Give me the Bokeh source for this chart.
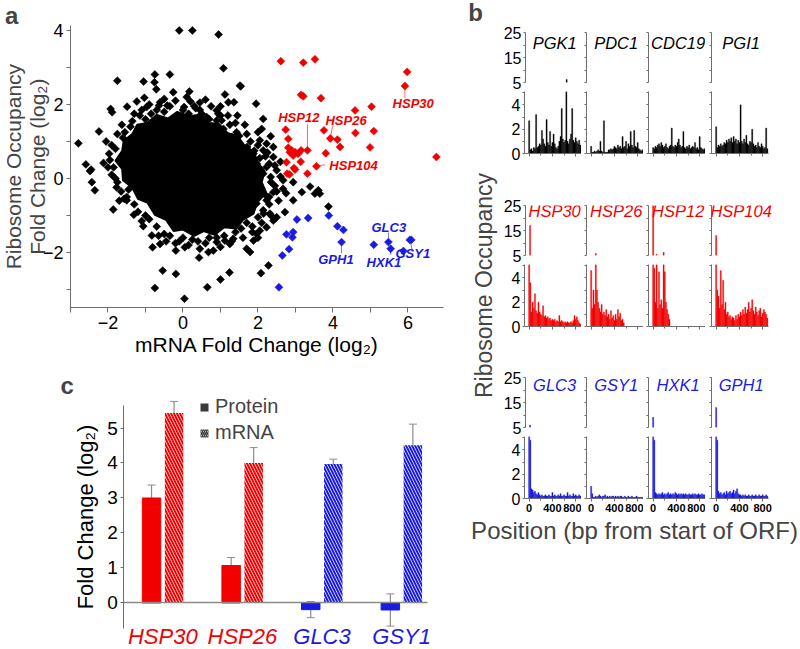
import numpy as np
from bokeh.plotting import figure
from bokeh.layouts import row, column
from bokeh.models import (Range1d, FixedTicker, Label, Whisker, ColumnDataSource,
                          Legend, LegendItem, CDSView, BooleanFilter)
from bokeh.embed import file_html
from bokeh.resources import INLINE
from bokeh.core.properties import value

FONT = "Liberation Sans"
RED = "#f20000"
BLUE = "#1a1ae0"
AX = "#6e6e6e"
COLOR_OF = {"up": RED, "down": BLUE}

# ---------------- panel a data ----------------
black_x = [-0.10, 0.25, 0.95, 1.08, -1.75, -0.75, -0.35, -1.05, -0.76, -0.71,
           -0.26, 0.17, 0.20, 0.60, 1.12, 1.21, 1.36, -1.93, -1.89, -1.49,
           -1.23, -1.03, -0.97, -0.64, -0.61, -0.42, 0.03, 0.34, 0.90, 0.94,
           1.03, 1.52, -2.24, -2.79, -1.97, -2.12, -2.59, -2.45, -1.63, 0.63,
           0.90, 0.81, 1.08, 1.16, 1.30, 1.34, 1.16, 1.43, 1.54, 1.95,
           2.14, 2.10, 2.34, 2.05, 2.23, 2.41, 2.14, 1.71, 1.88, 1.74,
           1.97, 2.23, 2.41, 2.50, 2.14, 2.34, 2.67, 2.67, 2.94, 3.17,
           3.61, 3.65, -2.48, -2.43, -2.35, -1.86, -1.77, -1.57, -1.50, -1.31,
           -1.06, -0.83, -0.81, -0.54, -0.75, -0.19, 0.04, -0.61, -0.19, 0.05,
           0.43, 0.65, 0.68, 0.81, 1.00, 1.24, 0.90, 1.12, 1.25, 1.34,
           1.70, 1.79, 2.08, 2.28, 1.88, 1.96, 2.05, 2.23, 2.72, 2.94,
           3.39, 3.52, 3.88, 2.32, 2.41, 2.50, 2.14, 2.23, 1.96, 2.41,
           -1.40, -1.60, -1.80, -1.85, -1.75, -1.30, -0.90, -0.50, 0.00, 0.40,
           0.90, 1.40, 1.70, 2.00, 2.30, 2.45, 2.30, 2.00, 1.70, 1.40,
           1.00, 0.50, 0.00, -0.50, -1.00, -1.55, -1.35, -1.15, -0.85, -0.35,
           0.15, 0.45, 0.70, 1.25, 1.50, 1.80, 1.90, 2.05, 2.20, 1.60,
           -1.95, -1.90, -1.65, -1.45, -1.20, -1.00, -0.70, -0.35, -0.10, 0.25,
           0.60, 1.10, 1.55, 1.85, 2.15, 2.20, 2.35, 2.60, 2.55, 2.75,
           -1.10, -0.90, -0.50, -0.20, 0.10, 0.45, 0.75, 1.00, -1.30, -0.70,
           0.30, 1.20, 1.45, 1.65, 2.00, 2.25, 2.45, 2.60, 2.50, 2.30,
           2.10, 1.85, 2.00, 2.35, 1.60, 1.30, 1.00, 0.70, 0.45, 0.15,
           -0.20, -0.45, -0.65, -1.10, -1.50, -1.70, -1.80, -2.00, -1.90, -1.75,
           -2.05]
black_y = [4.00, 4.00, 3.89, 2.98, 2.64, 2.81, 2.81, 2.62, 2.60, 2.41,
           2.33, 2.35, 2.08, 2.13, 2.27, 2.06, 2.06, 1.88, 1.79, 1.94,
           2.08, 2.18, 1.93, 1.97, 2.06, 1.97, 1.93, 1.90, 1.84, 1.75,
           1.57, 2.51, 1.27, 0.95, 0.67, 0.42, 0.38, 0.24, 1.45, 1.66,
           1.57, 1.39, 1.34, 1.16, 1.12, 0.71, 0.67, 1.25, 2.49, 2.02,
           1.61, 1.34, 1.14, 1.03, 0.94, 0.85, 0.76, 0.85, 0.67, 0.49,
           0.40, 0.31, 0.58, 0.22, 0.13, 0.04, -0.05, -0.28, -0.10, -0.37,
           -0.32, -0.41, 0.20, -0.10, -0.32, -0.84, -0.24, -0.55, -0.59, -0.98,
           -1.29, -1.54, -1.86, -2.49, -2.96, -2.58, -3.25, -1.77, -1.95, -1.86,
           -2.14, -2.94, -1.99, -1.95, -2.73, -2.54, -1.72, -1.68, -1.77, -1.63,
           -1.90, -1.99, -2.56, -2.35, -1.68, -1.50, -1.41, -1.32, -0.91, -0.59,
           -0.22, -0.41, -0.76, -0.95, -1.14, -1.05, -0.86, -0.59, -0.68, -0.37,
           1.40, 1.10, 0.80, 0.30, -0.10, -0.70, -1.10, -1.50, -1.60, -1.70,
           -1.60, -1.45, -1.20, -1.05, -0.70, -0.20, 0.40, 0.90, 1.20, 1.50,
           1.70, 1.75, 1.85, 1.80, 1.60, 1.25, 1.55, 1.70, 1.75, 1.95,
           1.75, 1.85, 1.60, 1.45, 1.15, 1.00, 0.75, 0.55, 0.60, 0.50,
           0.50, 0.10, -0.35, -0.30, -0.90, -1.00, -1.30, -1.55, -1.70, -1.65,
           -1.75, -1.55, -1.35, -1.30, -0.95, -0.45, -0.10, 0.45, -0.60, -0.40,
           1.85, 2.00, 2.15, 2.10, 2.20, 2.05, 1.95, 1.95, 1.75, 1.85,
           1.95, 1.70, 1.70, 1.45, 1.25, 0.70, 0.35, 0.05, -0.35, -0.50,
           -1.20, -1.45, -1.60, -1.00, -1.60, -1.70, -1.85, -1.60, -1.90, -1.80,
           -1.75, -1.70, -1.55, -1.15, -0.50, -0.60, 0.00, 0.30, 0.90, 1.20,
           1.00]
# outline of the saturated (solid black) core of the cloud
core_x = [-0.70, -0.40, -0.15, 0.15, 0.45, 0.70, 0.95, 1.20, 1.45, 1.65, 1.90, 1.98, 2.18, 2.10,
          2.22, 1.98, 1.88, 1.60, 1.42, 1.10, 0.85, 0.55, 0.30, 0.00, -0.25, -0.45, -0.75, -0.95,
          -1.20, -1.35, -1.60, -1.62, -1.80, -1.62, -1.58, -1.35, -1.22, -0.95]
core_y = [1.72, 1.62, 1.80, 1.68, 1.72, 1.50, 1.48, 1.22, 1.15, 0.88, 0.72, 0.45, 0.20, -0.10,
          -0.38, -0.65, -0.95, -1.12, -1.35, -1.32, -1.52, -1.42, -1.55, -1.38, -1.42, -1.12, -0.98, -0.65,
          -0.55, -0.25, -0.05, 0.25, 0.48, 0.75, 1.02, 1.20, 1.45, 1.50]
red_x = [2.61, 3.21, 3.52, 5.98, 5.92, 3.15, 3.21, 3.68, 4.59, 5.03,
         2.74, 3.76, 4.60, 5.09, 2.81, 3.93, 4.12, 4.19, 4.99, 2.81,
         2.90, 2.99, 3.07, 3.15, 2.94, 2.85, 3.32, 3.81, 2.76, 3.14,
         3.56, 6.76, 2.84, 2.99, 3.32, 2.78, 2.96]
red_y = [3.17, 3.13, 3.22, 2.88, 2.50, 2.26, 2.22, 2.17, 1.84, 1.94,
         1.32, 1.30, 1.23, 1.28, 1.07, 1.08, 1.05, 0.85, 0.84, 0.83,
         0.76, 0.71, 0.67, 0.76, 0.62, 0.71, 0.76, 0.68, 0.44, 0.45,
         0.33, 0.58, 0.11, 0.24, 0.13, 0.13, 0.28]
blue_x = [3.04, 3.34, 3.89, 4.12, 4.28, 4.23, 2.76, 2.94, 2.92, 2.83, 2.65, 2.56,
          5.09, 5.48, 5.54, 5.88, 6.05, 6.09]
blue_y = [-1.11, -1.07, -1.00, -1.29, -1.39, -1.72, -1.51, -1.45, -1.59, -1.91, -2.08, -2.94,
          -1.79, -1.72, -1.90, -1.96, -1.66, -1.66]
ann_genes = ["HSP30", "HSP12", "HSP26", "HSP104", "GLC3", "HXK1", "GSY1", "GPH1"]
ann_x = [5.92, 3.32, 3.93, 3.56, 5.48, 5.54, 6.05, 4.23]
ann_y = [2.50, 0.76, 1.08, 0.33, -1.72, -1.90, -1.66, -1.72]
ann_group = ["up", "up", "up", "up", "down", "down", "down", "down"]

# ---------------- panel b data ----------------
PGK1 = [2.7, 0.3, 0.4, 0.2, 0.5, 0.4, 3.2, 0.5, 0.6, 0.8, 0.7, 1.9, 1.2, 0.8, 0.6, 2.8, 0.9, 0.7, 1.8, 0.6,
        0.9, 1.6, 0.8, 0.5, 0.4, 0.6, 1.0, 1.4, 3.7, 1.2, 0.9, 1.1, 6.2, 1.0, 0.8, 1.2, 1.6, 3.7, 1.1, 0.9,
        1.3, 1.0, 0.8, 1.1, 0.7]
PDC1 = [0.6, 0.1, 0.1, 0.2, 0.1, 0.2, 0.3, 0.2, 1.0, 0.2, 0.1, 2.7, 0.1, 0.1, 0.1, 0.3, 0.3, 0.4, 0.3, 0.4,
        0.6, 0.5, 0.4, 0.7, 0.5, 0.6, 0.4, 1.4, 0.5, 0.6, 1.0, 0.4, 0.8, 0.6, 1.8, 0.7, 0.5, 1.9, 0.6, 0.5,
        0.9, 0.4, 0.3, 0.2, 0.3]
CDC19 = [0.5, 0.4, 0.6, 0.5, 0.7, 0.8, 0.6, 0.9, 0.7, 0.5, 0.6, 0.8, 0.5, 0.4, 0.6, 0.7, 2.1, 0.6, 0.5, 0.7,
         0.6, 0.9, 1.2, 0.7, 0.5, 0.6, 1.8, 0.5, 0.4, 0.6, 0.5, 0.7, 0.4, 0.5, 0.6, 0.5, 0.9, 0.4, 0.5, 0.3,
         1.4, 0.5, 0.4, 0.3, 0.4]
PGI1 = [2.2, 0.5, 0.7, 0.6, 0.8, 0.6, 0.7, 0.9, 0.8, 1.1, 0.9, 1.2, 1.0, 1.3, 0.9, 1.4, 1.0, 1.2, 0.8, 1.1,
        0.9, 4.0, 1.0, 0.8, 1.2, 0.9, 1.5, 0.8, 0.7, 1.0, 0.9, 2.0, 0.8, 0.6, 0.7, 0.5, 0.9, 0.6, 0.5, 0.8,
        0.6, 0.4, 0.5, 2.1, 0.4]
HSP30 = [17, 3.6, 1.2, 2.0, 1.5, 2.7, 1.3, 1.1, 2.0, 1.2, 1.0, 0.9, 1.7, 0.8, 0.9, 0.7, 0.8, 0.6, 0.7, 0.5,
         0.6, 0.5, 0.6, 0.4, 0.5, 0.4, 0.9, 0.4, 0.5, 0.4, 0.3, 0.4, 0.3, 0.4, 0.3, 0.3, 0.4, 0.3, 0.5, 0.9,
         0.6, 0.8, 0.5, 0.3, 0.2]
HSP26 = [4.6, 1.5, 3.0, 1.8, 5.8, 3.0, 2.0, 1.5, 1.2, 1.8, 1.0, 1.2, 0.9, 1.4, 0.8, 1.0, 0.6, 1.3, 0.7, 0.9,
         0.5, 1.0, 0.6, 1.4, 0.8, 1.1, 0.5, 0.6, 0.3, 0, 0, 0, 0, 0, 0, 0, 0, 0, 0, 0,
         0, 0, 0, 0, 0]
HSP12 = [28, 4.8, 2.0, 5.5, 1.5, 4.5, 1.8, 2.2, 1.5, 6.3, 4.5, 2.0, 1.4, 1.0, 0.6, 0, 0, 0, 0, 0,
         0, 0, 0, 0, 0, 0, 0, 0, 0, 0, 0, 0, 0, 0, 0, 0, 0, 0, 0, 0,
         0, 0, 0, 0, 0]
HSP104 = [13, 3.0, 2.5, 1.5, 4.6, 1.8, 3.8, 1.4, 2.0, 1.0, 1.2, 0.8, 0.9, 0.6, 0.8, 0.7, 0.5, 0.9, 0.6, 1.0,
          0.8, 1.2, 0.9, 1.4, 1.0, 1.6, 1.1, 1.4, 2.0, 1.2, 1.5, 2.2, 1.3, 1.0, 1.6, 1.2, 0.9, 1.3, 1.5, 0.8,
          1.1, 1.4, 1.2, 1.0, 0.7]
GLC3 = [6.0, 4.8, 0.8, 0.7, 0.5, 0.6, 0.4, 0.3, 0.5, 0.3, 0.2, 0.3, 0.2, 0.2, 0.3, 0.2, 0.2, 0.3, 0.2, 0.2,
        0.5, 0.2, 0.3, 0.2, 0.2, 0.3, 0.2, 0.4, 0.2, 0.2, 0.3, 0.2, 0.2, 0.5, 0.2, 0.3, 0.2, 0.2, 0.4, 0.2,
        0.3, 0.2, 0.2, 0.3, 0.2]
GSY1 = [1.0, 0.4, 0.1, 0.1, 0.2, 0.1, 0.2, 0.3, 0.2, 0.1, 0.2, 0.2, 0.3, 0.1, 0.2, 0.1, 0.2, 0.1, 0.2, 0.2,
        0.1, 0.2, 0.1, 0.2, 0.1, 0.2, 0.2, 0.1, 0.1, 0.2, 0.1, 0.1, 0.2, 0.1, 0.1, 0.2, 0.1, 0.1, 0.1, 0.2,
        0.1, 0.1, 0.1, 0.1, 0.1]
HXK1 = [9.1, 4.8, 0.5, 0.4, 0.3, 0.4, 0.3, 0.4, 0.5, 0.3, 0.4, 0.3, 0.4, 0.5, 0.3, 0.4, 0.3, 0.4, 0.3, 0.5,
        0.4, 0.3, 0.4, 0.3, 0.4, 0.3, 0.4, 0.3, 0.4, 0.3, 0.3, 0.4, 0.3, 0.3, 0.4, 0.3, 0.4, 0.3, 0.3, 0.4,
        0.3, 0.3, 0.4, 0.3, 0.3]
GPH1 = [13, 4.8, 0.6, 0.4, 0.5, 0.3, 0.4, 0.5, 0.3, 0.6, 0.4, 0.5, 0.6, 0.4, 0.5, 0.7, 0.4, 0.6, 0.8, 0.4,
        0.3, 0.3, 0.2, 0.3, 0.2, 0.3, 0.2, 0.2, 0.3, 0.2, 0.2, 0.3, 0.2, 0.2, 0.3, 0.2, 0.2, 0.3, 0.2, 0.2,
        0.3, 0.2, 0.2, 0.3, 0.2]
track_names = [["PGK1", "PDC1", "CDC19", "PGI1"],
               ["HSP30", "HSP26", "HSP12", "HSP104"],
               ["GLC3", "GSY1", "HXK1", "GPH1"]]
track_values = [[PGK1, PDC1, CDC19, PGI1],
                [HSP30, HSP26, HSP12, HSP104],
                [GLC3, GSY1, HXK1, GPH1]]
BIN = 20
positions = list(range(0, BIN * len(PGK1), BIN))
BREAK = 5  # where the y axis of each track is broken

# ---------------- panel c data ----------------
genes_c = ["HSP30", "HSP26", "GLC3", "GSY1"]
group_c = ["up", "up", "down", "down"]
protein = [3.00, 1.07, -0.19, -0.20]
protein_err = [0.37, 0.23, 0.23, 0.46]
mrna = [5.43, 4.00, 3.97, 4.51]
mrna_err = [0.33, 0.44, 0.14, 0.60]


def base_fig(**kw):
    p = figure(output_backend="svg", toolbar_location=None, **kw)
    p.grid.visible = False
    p.outline_line_color = None
    return p


def no_border(**kw):
    return base_fig(min_border_left=0, min_border_right=0, min_border_top=0, min_border_bottom=0, **kw)


def style_axis(ax, size):
    ax.axis_line_color = AX
    ax.major_tick_line_color = AX
    ax.minor_tick_line_color = AX
    ax.major_tick_in = 0
    ax.minor_tick_in = 0
    ax.major_label_text_font = FONT
    ax.major_label_text_font_size = size
    ax.major_label_text_color = "black"
    ax.axis_label_text_font = FONT
    ax.axis_label_text_font_style = "normal"
    ax.axis_label_text_color = "black"


# ================= panel a =================
# whole canvas is the frame; axes sit at fixed data locations
XA0, XA1, YA0, YA1 = -3.0, 6.95, -3.49, 4.13
pa = no_border(width=462, height=370, x_range=Range1d(-4.867, 7.456), y_range=Range1d(-5.19, 4.81))
pa.patch(core_x, core_y, fill_color="black", line_color="black", line_width=2)
mk = dict(marker="square", angle=np.pi / 4, size=5.6, line_width=0.6)
pa.scatter(black_x, black_y, fill_color="black", line_color="black", **mk)
pa.scatter(red_x, red_y, fill_color=RED, line_color=RED, **mk)
pa.scatter(blue_x, blue_y, fill_color=BLUE, line_color=BLUE, **mk)

text_off = {"HSP30": (0.22, -0.48), "HSP12": (-0.23, 0.90), "HSP26": (0.42, 0.49), "HSP104": (0.99, 0.02),
            "GLC3": (0.01, 0.40), "HXK1": (-0.18, -0.36), "GSY1": (0.08, -0.37), "GPH1": (-0.15, -0.47)}
line_off = {"HSP30": (0, -0.33), "HSP12": (0, 0.70), "HSP26": (0.06, 0.34), "HSP104": (0.23, 0.04),
            "GLC3": (0, 0.26), "HXK1": (0, -0.16), "GSY1": (0.07, -0.29), "GPH1": (0, -0.30)}
ann_col = [COLOR_OF[g] for g in ann_group]
pa.segment(x0=ann_x, y0=ann_y,
           x1=[x + line_off[g][0] for g, x in zip(ann_genes, ann_x)],
           y1=[y + line_off[g][1] for g, y in zip(ann_genes, ann_y)],
           line_color=ann_col, line_alpha=0.6, line_width=1)
pa.text(x=[x + text_off[g][0] for g, x in zip(ann_genes, ann_x)],
        y=[y + text_off[g][1] for g, y in zip(ann_genes, ann_y)],
        text=ann_genes, text_color=ann_col, text_font=value(FONT), text_font_style="bold italic",
        text_font_size="13px", text_align="center", text_baseline="middle")

xa = pa.xaxis[0]
style_axis(xa, "18px")
xa.fixed_location = YA0
xa.bounds = (XA0, XA1)
xa.ticker = FixedTicker(ticks=[-2, 0, 2, 4, 6], minor_ticks=[-3, -1, 1, 3, 5])
xa.major_tick_out = 5
xa.minor_tick_out = 5
xa.major_label_standoff = 3
xa.axis_label = "mRNA Fold Change (log\u2082)"
xa.axis_label_text_font_size = "21px"
xa.axis_label_standoff = 1
ya = pa.yaxis[0]
style_axis(ya, "18px")
ya.fixed_location = XA0
ya.bounds = (YA0, YA1)
ya.ticker = FixedTicker(ticks=[-2, 0, 2, 4], minor_ticks=[-3, -1, 1, 3])
ya.major_tick_out = 4
ya.minor_tick_out = 4
ya.major_label_standoff = 3
for lx, txt in ((-4.52, "Ribosome Occupancy"), (-3.89, "Fold Change (log\u2082)")):
    pa.add_layout(Label(x=lx, y=0.32, text=txt, angle=np.pi / 2, text_align="center",
                        text_baseline="middle", text_font=FONT, text_font_size="21px"))
pa.add_layout(Label(x=-4.57, y=4.40, text="a", text_align="center", text_baseline="middle",
                    text_font=FONT, text_font_style="bold", text_font_size="24px"))

# ================= panel c =================
pc = no_border(width=462, height=279, x_range=Range1d(-1.039, 4.765), y_range=Range1d(-1.329, 6.643))
idx = np.arange(1, len(genes_c) + 1)
DODGE, BW = 0.1415, 0.232
col_c = [COLOR_OF[g] for g in group_c]
pc.vbar(x=idx - DODGE, top=protein, bottom=0, width=BW, fill_color=col_c, line_color=col_c)
pc.vbar(x=idx + DODGE, top=mrna, bottom=0, width=BW, fill_color="white", line_color=None,
        hatch_pattern="\\", hatch_color=col_c, hatch_weight=2.0, hatch_scale=6)
err_src = ColumnDataSource(dict(
    base=list(idx - DODGE) + list(idx + DODGE),
    upper=list(np.array(protein) + np.array(protein_err)) + list(np.array(mrna) + np.array(mrna_err)),
    lower=list(np.array(protein) - np.array(protein_err)) + list(np.array(mrna) - np.array(mrna_err))))
wh = Whisker(source=err_src, base="base", upper="upper", lower="lower", line_color="#8c8c8c", line_width=1.2)
wh.upper_head.size = 8
wh.lower_head.size = 8
wh.upper_head.line_color = "#8c8c8c"
wh.lower_head.line_color = "#8c8c8c"
pc.add_layout(wh)
pc.text(x=idx, y=[-0.95] * len(genes_c), text=genes_c, text_color=col_c, text_font=value(FONT),
        text_font_style="italic", text_font_size="22px", text_align="center", text_baseline="middle")
leg_p = pc.vbar(x=[np.nan], top=[np.nan], width=0.2, fill_color="#3a3a3a", line_color=None)
leg_m = pc.vbar(x=[np.nan], top=[np.nan], width=0.2, fill_color="white", line_color=None,
                hatch_pattern="\\", hatch_color="#3a3a3a", hatch_weight=1.6, hatch_scale=4)
legend = Legend(items=[LegendItem(label="Protein", renderers=[leg_p]),
                       LegendItem(label="mRNA", renderers=[leg_m])],
                location=(199, 205), glyph_width=10, glyph_height=10, label_standoff=6, spacing=3,
                padding=0, margin=0, border_line_color=None, background_fill_alpha=0,
                label_text_font=FONT, label_text_font_size="20px", label_height=20)
pc.add_layout(legend)
xc = pc.xaxis[0]
xc.fixed_location = 0
xc.bounds = (0.51, 4.33)
xc.ticker = FixedTicker(ticks=[])
xc.axis_line_color = "#8a8a8a"
xc.axis_line_width = 1.5
xc.major_tick_out = 0
xc.major_label_standoff = 0
yc = pc.yaxis[0]
style_axis(yc, "19px")
yc.fixed_location = 0.51
yc.ticker = FixedTicker(ticks=[0, 1, 2, 3, 4, 5])
yc.bounds = (-0.72, 5.65)
yc.major_tick_out = 3
yc.major_label_standoff = 3
yc.axis_label = "Fold Change (log\u2082)"
yc.axis_label_text_font_size = "22px"
yc.axis_label_standoff = 6
pc.add_layout(Label(x=-0.20, y=6.21, text="c", text_align="center", text_baseline="middle",
                    text_font=FONT, text_font_style="bold", text_font_size="24px"))

# ================= panel b =================
row_style = [  # (colour, top border, bottom border, gene label y)
    ("black", 32, 25, 21.0),
    (RED, 27, 25, 22.8),
    (BLUE, 26, 18, 22.0),
]
GAP = 9   # room under the upper part of each broken axis (for its "5" label)
LOW_H = 62
track_rows = []
TRACK_H = 0
for r in range(3):
    color, bt, bb, ly = row_style[r]
    tops, bots = [], []
    for c in range(4):
        bl = 24 if c == 0 else (6 if c == 3 else 5)
        fw = 84 if c == 3 else 57
        br = 5 if c == 3 else 0
        w = bl + fw + br
        xr = (-80, -80 + 980 * fw / 57)
        vals = track_values[r][c]
        src = ColumnDataSource(dict(x=positions, top=vals))
        t = base_fig(width=w, height=bt + 50 + GAP, x_range=Range1d(*xr), y_range=Range1d(BREAK, 25),
                     min_border_left=bl, min_border_right=br, min_border_top=bt, min_border_bottom=GAP)
        b = base_fig(width=w, height=LOW_H + bb, x_range=Range1d(*xr), y_range=Range1d(0, 5.1),
                     min_border_left=bl, min_border_right=br, min_border_top=0, min_border_bottom=bb)
        # upper part only shows the bars that pass the break
        t.vbar(x="x", top="top", width=BIN, bottom=0, source=src,
               view=CDSView(filter=BooleanFilter([v > BREAK for v in vals])),
               fill_color=color, line_color=color, line_width=0.3)
        b.vbar(x="x", top="top", width=BIN, bottom=0, source=src, fill_color=color,
               line_color=color, line_width=0.3)
        for f in (t, b):
            style_axis(f.yaxis[0], "16px")
            f.yaxis.major_tick_out = 2
            f.yaxis.minor_tick_out = 2
            f.yaxis.major_label_standoff = 2
        t.yaxis.ticker = FixedTicker(ticks=[5, 15, 25], minor_ticks=[10, 20])
        b.yaxis.ticker = FixedTicker(ticks=[0, 2, 4], minor_ticks=[1, 3, 5])
        if c > 0:
            t.yaxis.major_label_overrides = {5: "", 15: "", 25: ""}
            b.yaxis.major_label_overrides = {0: "", 2: "", 4: ""}
            t.yaxis.major_label_standoff = 0
            b.yaxis.major_label_standoff = 0
        t.xaxis.visible = False
        style_axis(b.xaxis[0], "11px")
        b.xaxis.bounds = (-80, 900)
        b.xaxis.ticker = FixedTicker(ticks=[0, 400, 800], minor_ticks=[200, 600])
        b.xaxis.major_tick_out = 3
        b.xaxis.minor_tick_out = 2
        b.xaxis.major_label_standoff = 2
        b.xaxis.major_label_text_font_style = "bold"
        if r < 2:
            b.xaxis.major_label_overrides = {0: "", 400: "", 800: ""}
        t.add_layout(Label(x=430, y=ly, text=track_names[r][c], text_align="center",
                           text_baseline="middle", text_font=FONT, text_font_style="italic",
                           text_font_size="16.5px", text_color=color))
        tops.append(t)
        bots.append(b)
    TRACK_H += (bt + 50 + GAP) + (LOW_H + bb)
    track_rows.append(row(*tops))
    track_rows.append(row(*bots))
tracks_col = column(*track_rows)

pyl = no_border(width=38, height=TRACK_H, x_range=Range1d(0, 38), y_range=Range1d(0, TRACK_H))
pyl.axis.visible = False
pyl.add_layout(Label(x=21, y=TRACK_H - 285, text="Ribosome Occupancy", angle=np.pi / 2, text_align="center",
                     text_baseline="middle", text_font=FONT, text_font_size="23px"))
pyl.add_layout(Label(x=13, y=TRACK_H - 12, text="b", text_align="center", text_baseline="middle",
                     text_font=FONT, text_font_style="bold", text_font_size="24px"))

XL_H = 649 - TRACK_H
pxl = no_border(width=338, height=XL_H, x_range=Range1d(0, 338), y_range=Range1d(0, XL_H))
pxl.axis.visible = False
pxl.add_layout(Label(x=172, y=XL_H - 14, text="Position (bp from start of ORF)", text_align="center",
                     text_baseline="middle", text_font=FONT, text_font_size="24px"))

layout = row(column(pa, pc), column(row(pyl, tracks_col), pxl))
open("out.html", "w").write(file_html(layout, INLINE))
